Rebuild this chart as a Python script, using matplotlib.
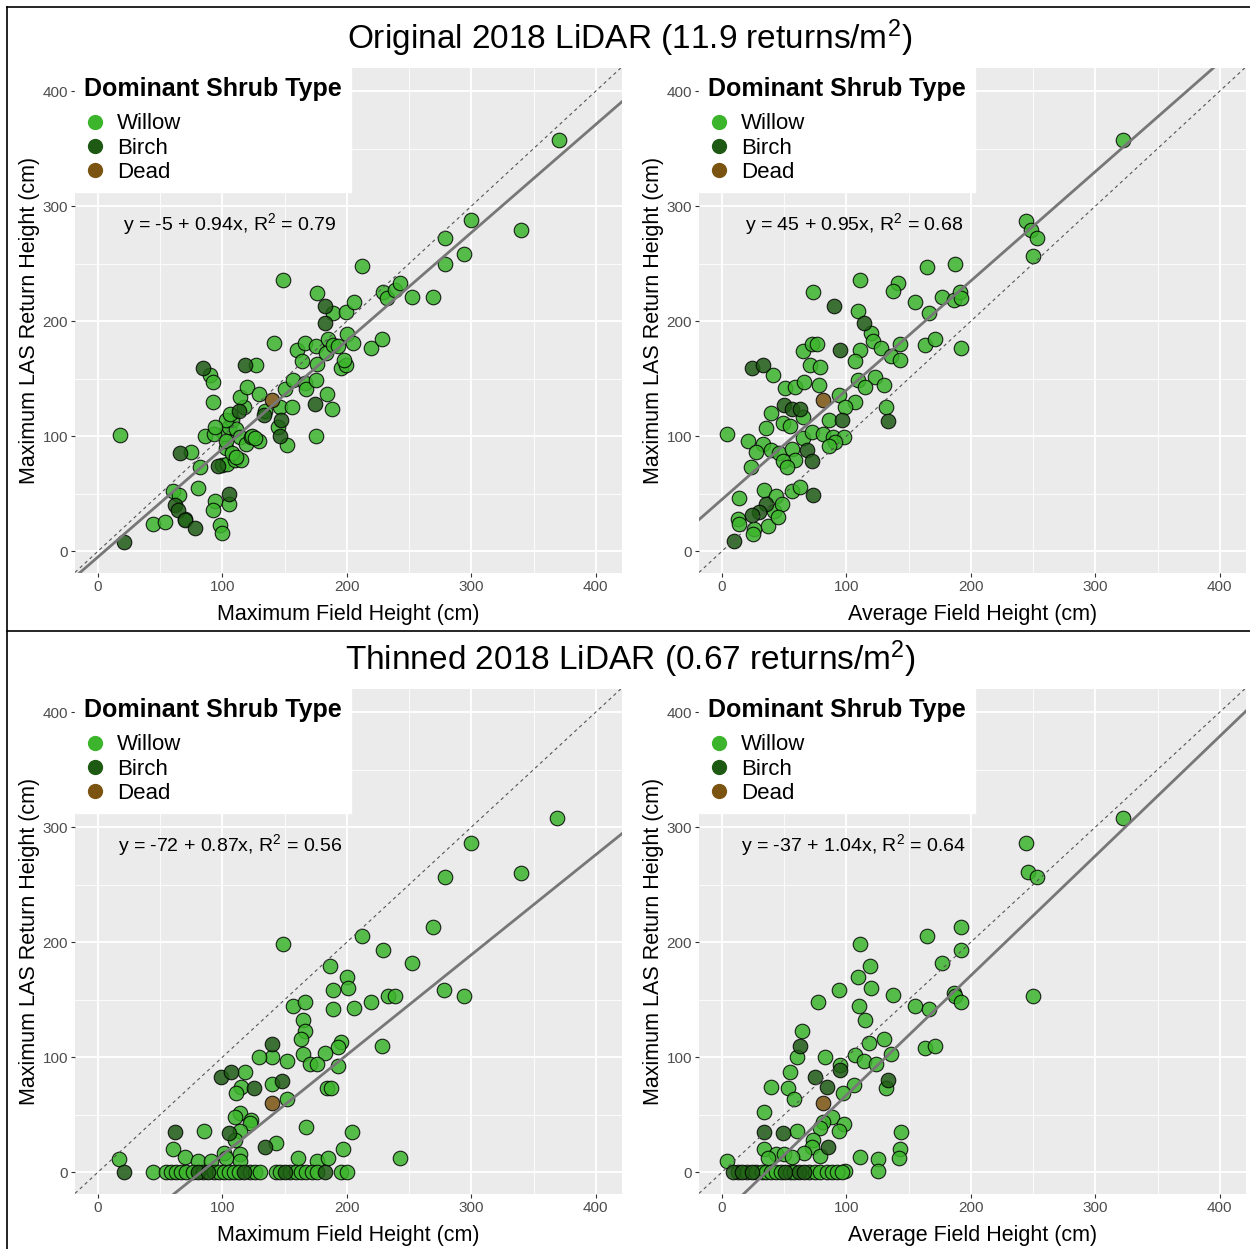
import matplotlib
matplotlib.use("Agg")
import matplotlib.pyplot as plt
from matplotlib.lines import Line2D

plt.rcParams["font.family"] = ["Liberation Sans", "DejaVu Sans"]
plt.rcParams["mathtext.fontset"] = "custom"
plt.rcParams["mathtext.rm"] = "Liberation Sans"
plt.rcParams["mathtext.it"] = "Liberation Sans"

# shrub type colours
type_names = ["Willow", "Birch", "Dead"]
type_colors = ["#3CB42C", "#1E5A14", "#7A5410"]

# Original LiDAR vs maximum field height
orig_max_willow = [
    (18, 101), (44, 24), (54, 25), (60, 52), (65, 49), (70, 28), (75, 86), (82, 73),
    (80, 55), (90, 153), (92, 147), (92, 130), (86, 100), (94, 44), (92, 36), (98, 23),
    (100, 16), (100, 75), (104, 76), (110, 79), (115, 79), (103, 90), (101, 102), (93, 102),
    (105, 108), (108, 114), (117, 125), (114, 134), (120, 143), (129, 137), (127, 162),
    (111, 106), (114, 99), (119, 93), (123, 99), (129, 96), (134, 122), (146, 125), (145, 108),
    (152, 92), (150, 141), (156, 125), (157, 149), (149, 236), (141, 181), (160, 175),
    (166, 181), (164, 165), (166, 146), (167, 141), (175, 149), (176, 163), (175, 178),
    (183, 172), (185, 184), (189, 179), (184, 137), (188, 124), (175, 100), (176, 224),
    (189, 207), (199, 208), (206, 217), (200, 189), (205, 181), (195, 159), (199, 162),
    (198, 166), (193, 178), (212, 248), (219, 177), (228, 184), (229, 225), (232, 220),
    (239, 227), (243, 233), (252, 221), (269, 221), (279, 250), (279, 272), (294, 258),
    (300, 288), (340, 279), (370, 357), (105, 41), (103, 114), (106, 119), (94, 108),
    (103, 96), (108, 85), (111, 82), (124, 100), (126, 98),
]
orig_max_birch = [
    (21, 8), (62, 40), (64, 36), (70, 27), (78, 20), (66, 85), (84, 159), (105, 50),
    (96, 74), (113, 122), (118, 162), (133, 118), (147, 114), (146, 100), (174, 128),
    (182, 213), (182, 198),
]
orig_max_dead = [(140, 131)]

# Original LiDAR vs average field height
orig_avg_willow = [
    (322, 357), (244, 287), (248, 279), (253, 272), (250, 257), (187, 250), (165, 247),
    (111, 236), (141, 233), (137, 226), (73, 225), (109, 209), (155, 217), (177, 221),
    (186, 218), (191, 225), (192, 220), (166, 207), (120, 190), (121, 183), (128, 177),
    (143, 180), (163, 179), (171, 184), (192, 177), (111, 175), (107, 165), (65, 174),
    (72, 180), (76, 180), (71, 162), (79, 160), (136, 170), (143, 166), (41, 153), (51, 142),
    (59, 143), (66, 147), (78, 144), (123, 151), (130, 144), (109, 149), (115, 143), (94, 136),
    (107, 130), (99, 125), (132, 125), (39, 120), (65, 117), (86, 114), (35, 107), (49, 111),
    (55, 109), (4, 102), (21, 96), (33, 93), (27, 86), (39, 88), (46, 85), (56, 89), (59, 79),
    (49, 78), (23, 73), (65, 98), (72, 104), (81, 102), (89, 99), (98, 99), (91, 95),
    (34, 53), (14, 46), (43, 48), (56, 52), (63, 56), (42, 35), (48, 41), (13, 28), (14, 24),
    (37, 22), (45, 30), (26, 19), (25, 15), (52, 73), (86, 91),
]
orig_avg_birch = [
    (90, 213), (114, 198), (95, 175), (24, 159), (33, 162), (133, 113), (50, 127), (56, 124),
    (63, 124), (96, 114), (68, 88), (72, 78), (73, 49), (35, 41), (30, 34), (24, 31), (10, 9),
]
orig_avg_dead = [(81, 131)]

# Thinned LiDAR vs maximum field height
thin_max_willow = [
    (369, 308), (300, 286), (279, 257), (340, 260), (269, 213), (212, 205), (149, 198),
    (229, 193), (252, 182), (186, 179), (200, 170), (201, 160), (189, 158), (157, 144),
    (166, 148), (189, 142), (206, 143), (219, 148), (233, 153), (239, 153), (278, 158),
    (294, 153), (165, 132), (166, 123), (163, 116), (165, 103), (195, 113), (193, 109),
    (228, 110), (182, 104), (170, 94), (176, 94), (193, 92), (140, 100), (129, 100),
    (152, 97), (118, 87), (140, 77), (115, 74), (111, 69), (184, 73), (187, 73), (152, 64),
    (114, 51), (110, 48), (123, 45), (122, 43), (167, 39), (204, 35), (85, 36), (114, 36),
    (110, 28), (143, 25), (60, 20), (70, 13), (80, 10), (91, 10), (101, 17), (103, 12),
    (114, 16), (114, 10), (161, 12), (176, 10), (185, 12), (197, 20), (243, 12), (17, 11),
    (44, 0), (55, 0), (59, 0), (63, 0), (67, 0), (71, 0), (76, 0), (84, 0), (93, 0), (97, 0),
    (101, 0), (105, 0), (109, 0), (113, 0), (122, 0), (126, 0), (130, 0), (143, 0), (146, 0),
    (154, 0), (159, 0), (163, 0), (167, 0), (172, 0), (176, 0), (195, 0), (200, 0),
]
thin_max_birch = [
    (21, 0), (80, 0), (88, 0), (117, 0), (150, 0), (182, 0), (140, 111), (99, 83), (107, 87),
    (148, 79), (125, 73), (62, 35), (105, 34), (134, 22),
]
thin_max_dead = [(140, 60)]

# Thinned LiDAR vs average field height
thin_avg_willow = [
    (322, 308), (244, 286), (246, 261), (253, 257), (250, 153), (192, 213), (165, 205),
    (111, 198), (192, 193), (177, 182), (119, 179), (109, 170), (120, 160), (94, 158),
    (137, 154), (77, 148), (110, 144), (115, 132), (155, 144), (166, 142), (186, 156),
    (187, 153), (192, 148), (64, 123), (130, 116), (118, 112), (163, 108), (171, 110),
    (60, 100), (83, 100), (107, 102), (114, 97), (124, 94), (136, 103), (95, 93), (55, 87),
    (132, 73), (39, 74), (53, 73), (58, 64), (106, 76), (97, 69), (34, 52), (88, 48),
    (81, 44), (98, 42), (60, 36), (79, 38), (94, 36), (144, 35), (73, 28), (72, 22), (34, 20),
    (66, 17), (79, 14), (143, 20), (142, 12), (111, 13), (125, 11), (125, 1), (4, 10),
    (43, 16), (50, 16), (37, 12), (56, 13), (99, 1),
    (13, 0), (20, 0), (27, 0), (32, 0), (35, 0), (39, 0), (43, 0), (47, 0), (55, 0), (58, 0),
    (70, 0), (75, 0), (79, 0), (84, 0), (88, 0), (92, 0), (96, 0),
]
thin_avg_birch = [
    (9, 0), (16, 0), (24, 0), (51, 0), (62, 0), (66, 0), (63, 110), (95, 89), (75, 83),
    (133, 80), (84, 74), (34, 35), (49, 34), (85, 22),
]
thin_avg_dead = [(81, 60)]

# fitted lines: intercept, slope, R2
fit_intercept = [-5, 45, -72, -37]
fit_slope = [0.94, 0.95, 0.87, 1.04]
fit_r2 = [0.79, 0.68, 0.56, 0.64]

x_labels = ["Maximum Field Height (cm)", "Average Field Height (cm)",
            "Maximum Field Height (cm)", "Average Field Height (cm)"]
y_label = "Maximum LAS Return Height (cm)"
titles = ["Original 2018 LiDAR (11.9 returns/m$^2$)", "Thinned 2018 LiDAR (0.67 returns/m$^2$)"]

panels = [
    (orig_max_willow, orig_max_birch, orig_max_dead),
    (orig_avg_willow, orig_avg_birch, orig_avg_dead),
    (thin_max_willow, thin_max_birch, thin_max_dead),
    (thin_avg_willow, thin_avg_birch, thin_avg_dead),
]

W, H = 1250, 1249
fig = plt.figure(figsize=(W / 100, H / 100), dpi=100)

# panel boxes in pixels: left, top
boxes = [(75, 68), (699, 68), (75, 689), (699, 689)]
pw, ph = 547, 505

for i, (left, top) in enumerate(boxes):
    ax = fig.add_axes([left / W, 1 - (top + ph) / H, pw / W, ph / H])
    ax.set_facecolor("#EBEBEB")
    ax.set_xlim(-18.5, 421)
    ax.set_ylim(-19, 420)
    ax.set_xticks(range(0, 401, 100))
    ax.set_yticks(range(0, 401, 100))
    ax.set_xticks(range(50, 401, 100), minor=True)
    ax.set_yticks(range(50, 401, 100), minor=True)
    ax.grid(which="major", color="white", lw=1.3)
    ax.grid(which="minor", color="white", lw=0.6)
    ax.set_axisbelow(True)
    for s in ax.spines.values():
        s.set_visible(False)
    ax.tick_params(which="major", length=3, width=0.8, color="#333333",
                   labelcolor="#4D4D4D", labelsize=11, pad=2)
    ax.tick_params(which="minor", length=0)

    for pts, name, col in zip(panels[i], type_names, type_colors):
        xs = [p[0] for p in pts]
        ys = [p[1] for p in pts]
        ax.scatter(xs, ys, s=110, facecolor=col, edgecolor="black",
                   linewidths=0.8, alpha=0.85, zorder=3)

    ax.axline((0, 0), slope=1, ls=(0, (3, 3)), color="#555555", lw=0.8, zorder=4)
    ax.axline((0, fit_intercept[i]), slope=fit_slope[i], color="#777777",
              lw=2.0, zorder=4)

    ax.text(106, 284,
            f"y = {fit_intercept[i]} + {fit_slope[i]:.2f}x, R$^2$ = {fit_r2[i]:.2f}",
            ha="center", va="center", fontsize=14, color="black", zorder=5)

    ax.set_xlabel(x_labels[i], fontsize=15.5, labelpad=7)
    ax.set_ylabel(y_label, fontsize=15.5, labelpad=2)

    handles = [Line2D([], [], ls="none", marker="o", markersize=11,
                      markerfacecolor=c, markeredgecolor="none") for c in type_colors]
    leg = ax.legend(handles, type_names, title="Dominant Shrub Type",
                    loc="upper left", bbox_to_anchor=(0, 1), borderaxespad=0,
                    frameon=True, fancybox=False, framealpha=1, facecolor="white",
                    edgecolor="white", fontsize=16,
                    title_fontproperties={"weight": "bold", "size": 18},
                    alignment="left", handletextpad=0.5, labelspacing=0.15,
                    borderpad=0.4, handlelength=1.0)
    leg._legend_box.sep = 9
    leg.set_zorder(6)

fig.text(630 / W, 1 - 38 / H, titles[0], ha="center", va="center", fontsize=24)
fig.text(630 / W, 1 - 659 / H, titles[1], ha="center", va="center", fontsize=24)

# frame lines around the figure and between the two halves
fig.add_artist(Line2D([7 / W, 1], [1 - 7 / H, 1 - 7 / H], color="black", lw=1.2))
fig.add_artist(Line2D([7 / W, 7 / W], [0, 1 - 7 / H], color="black", lw=1.2))
fig.add_artist(Line2D([7 / W, 1], [1 - 631 / H, 1 - 631 / H], color="black", lw=1.2))

fig.savefig("out.png", dpi=100)
